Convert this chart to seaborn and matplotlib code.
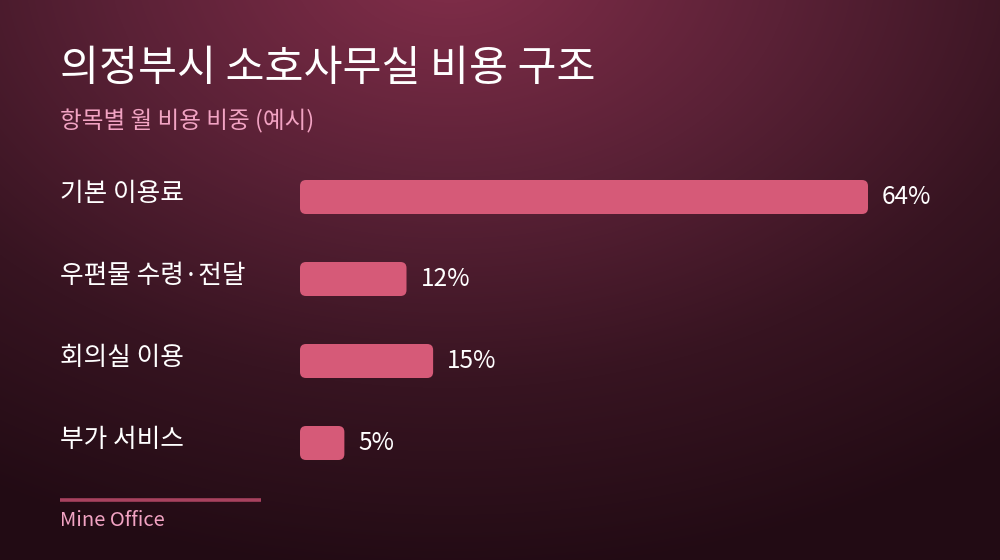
import numpy as np
import pandas as pd
import matplotlib
matplotlib.use("Agg")
import matplotlib.pyplot as plt
import seaborn as sns
from matplotlib.patches import FancyBboxPatch
from matplotlib.colors import LinearSegmentedColormap

categories = ["기본 이용료", "우편물 수령·전달", "회의실 이용", "부가 서비스"]
values = [64, 12, 15, 5]
value_labels = ["64%", "12%", "15%", "5%"]
title = "의정부시 소호사무실 비용 구조"
subtitle = "항목별 월 비용 비중 (예시)"
footer = "Mine Office"

sns.set_theme(style="white")
plt.rcParams["font.family"] = ["Noto Sans CJK KR", "DejaVu Sans"]

W, H = 1000, 560
fig = plt.figure(figsize=(10, 5.6), dpi=100)

# background radial gradient
bg = fig.add_axes([0, 0, 1, 1])
yy, xx = np.mgrid[0:H, 0:W]
d = np.sqrt(((xx - 450) / 900.0) ** 2 + ((yy + 40) / 620.0) ** 2)
d = np.clip(d, 0, 1)
cmap = LinearSegmentedColormap.from_list("bg", ["#7c2c47", "#5a2136", "#371421", "#220b14"])
bg.imshow(d, cmap=cmap, aspect="auto", extent=[0, W, H, 0], interpolation="bilinear")
bg.set_xlim(0, W)
bg.set_ylim(H, 0)
bg.axis("off")

# bar axes (pixel layout)
x0, xw = 300, 621.25
ytop, ybot = 156, 484
ax = fig.add_axes([x0 / W, 1 - ybot / H, xw / W, (ybot - ytop) / H])
ax.patch.set_alpha(0)
df = pd.DataFrame({"cat": categories, "val": values})
bar_h = 34 / 82
sns.barplot(data=df, y="cat", x="val", orient="h", ax=ax, color="#d65a78",
            width=bar_h, saturation=1)
ax.set_xlim(0, 70)
ax.set_ylim(3.5, -0.5)

xpx = 70 / xw
ypx = 4 / (ybot - ytop)
r = 6 * xpx
for p in list(ax.patches):
    bx, by, bw, bh = p.get_x(), p.get_y(), p.get_width(), p.get_height()
    p.remove()
    ax.add_patch(FancyBboxPatch((bx, by), bw, bh,
                                boxstyle=f"round,pad=0,rounding_size={r}",
                                mutation_aspect=ypx / xpx,
                                facecolor="#d65a78", edgecolor="none"))

for i, (v, lab) in enumerate(zip(values, value_labels)):
    ax.text(v + 14 * xpx, i, lab, color="white", fontsize=17.5, va="center", ha="left")

ax.axis("off")

# category labels
for i, c in enumerate(categories):
    fig.text(60 / W, 1 - (194 + 82 * i) / H, c, color="white", fontsize=18.5,
             va="center", ha="left")

fig.text(60 / W, 1 - 69 / H, title, color="white", fontsize=30.5, va="center",
         ha="left", fontweight="medium")
fig.text(60 / W, 1 - 121 / H, subtitle, color="#f2a3c3", fontsize=17,
         va="center", ha="left")

bg.plot([60, 261], [500, 500], color="#a8425f", lw=2.6, solid_capstyle="butt")
fig.text(60 / W, 1 - 521 / H, footer, color="#f2a3c3", fontsize=14.5,
         va="center", ha="left")

fig.savefig("out.png", dpi=100)
